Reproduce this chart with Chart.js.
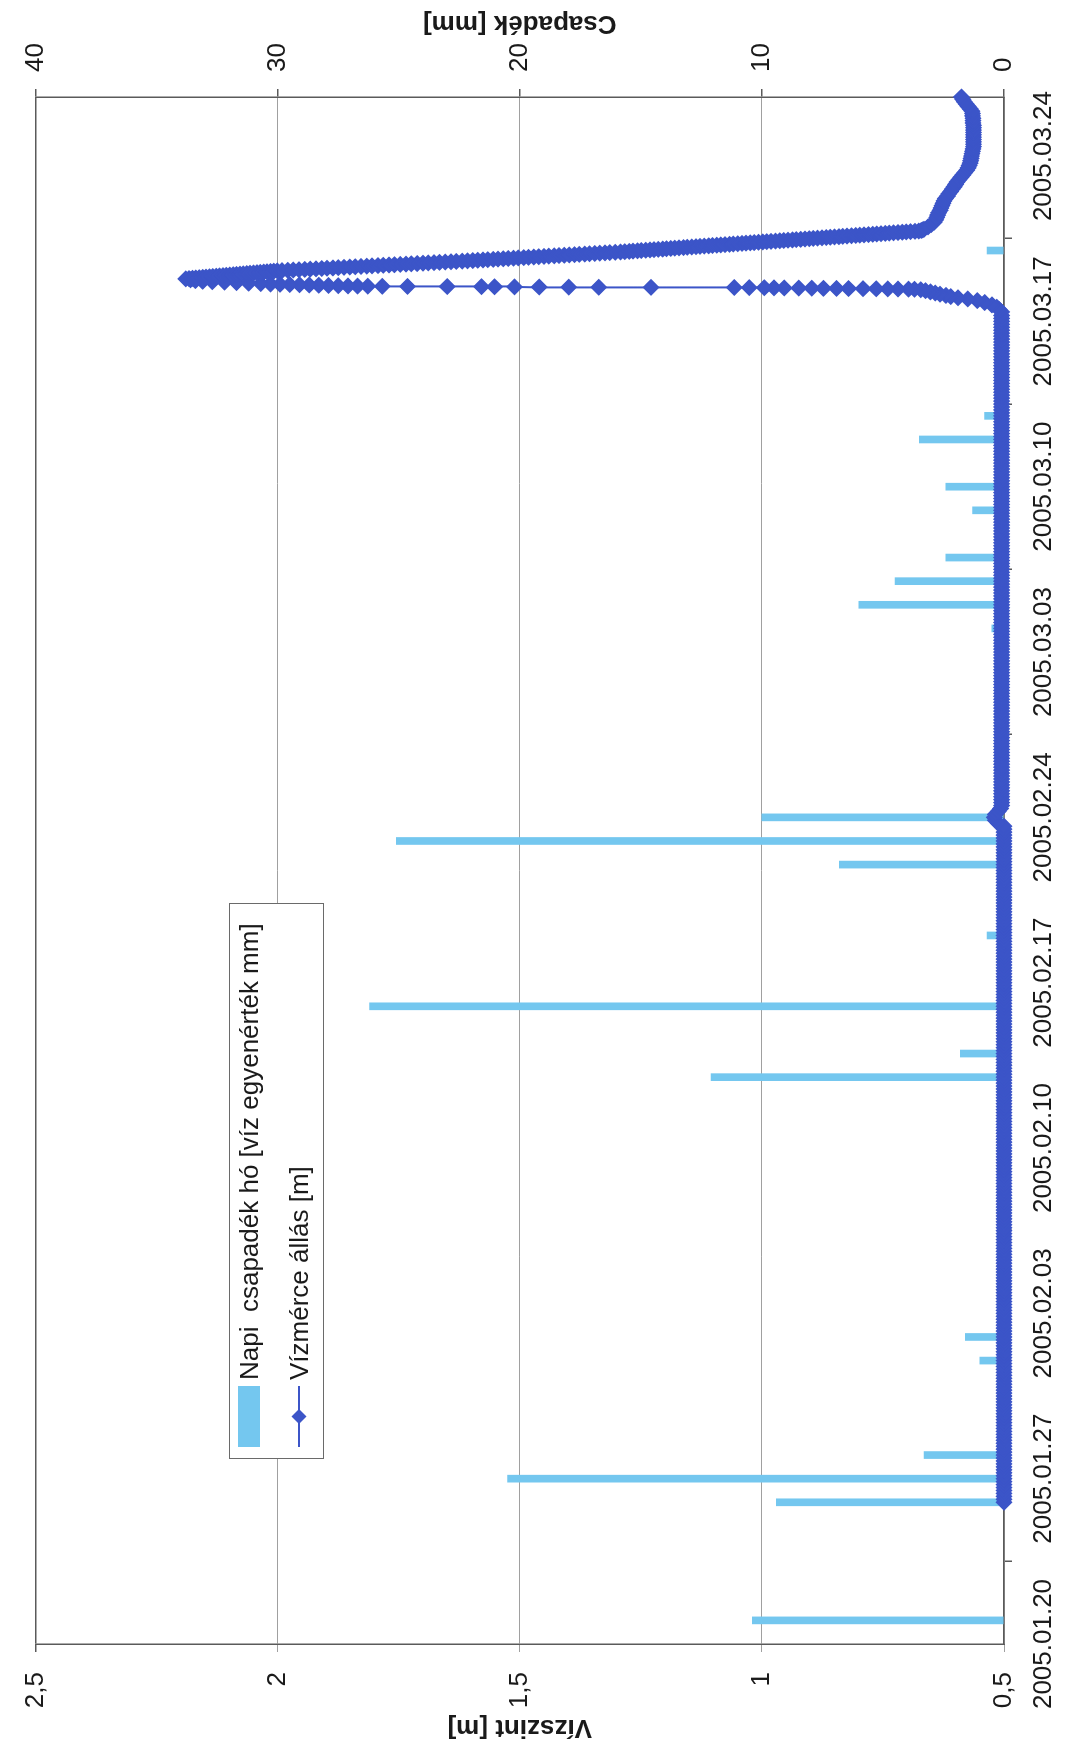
<!DOCTYPE html>
<html><head><meta charset="utf-8">
<script src="https://cdn.jsdelivr.net/npm/chart.js@4.4.1/dist/chart.umd.min.js"></script>
<style>
html,body{margin:0;padding:0;background:#fff;overflow:hidden;width:1073px;height:1753px}
#rot{position:absolute;left:0;top:0;width:1753px;height:1073px;transform-origin:0 0;transform:translate(0,1753px) rotate(-90deg)}
#c{position:absolute;left:0;top:0}
#legend{position:absolute;left:294px;top:229px;width:556px;height:95px;box-sizing:border-box;border:1.5px solid #6a6a6a;background:#fff;font-family:"Liberation Sans",Arial,sans-serif;font-size:26px;color:#1a1a1a}
.item{position:absolute;left:11px;height:30px;display:flex;align-items:center;white-space:pre}
.sym{width:61px;height:22px;margin-right:6px;flex:none}
</style></head><body>
<div id="rot"><canvas id="c" width="1753" height="1073"></canvas><div id="legend"></div></div>
<script>
// ---- labels ----
const precipLabel = 'Napi  csapadék hó [víz egyenérték mm]';
const levelLabel = 'Vízmérce állás [m]';
const levelAxisTitle = 'Vízszint [m]';
const precipAxisTitle = 'Csapadék [mm]';
// date tick labels (every 7 days from 2005.01.20 = day 0)
const dateLabels = ['2005.01.20','2005.01.27','2005.02.03','2005.02.10','2005.02.17','2005.02.24','2005.03.03','2005.03.10','2005.03.17','2005.03.24'];

// ---- daily precipitation (day offset from 2005.01.20, mm) ----
const barDays   = [1, 6, 7, 8, 12, 13, 24, 25, 27, 30, 33, 34, 35, 43, 44, 45, 46, 48, 49, 51, 52, 59];
const barValues = [10.4, 9.4, 20.5, 3.3, 1.0, 1.6, 12.1, 1.8, 26.2, 0.7, 6.8, 25.1, 10.0, 0.5, 6.0, 4.5, 2.4, 1.3, 2.4, 3.5, 0.8, 0.7];

// ---- water level readings (day offset from 2005.01.20, m) ----
const baseDays = [
6,6.125,6.25,6.375,6.5,6.625,6.75,6.875, 7,7.125,7.25,7.375,7.5,7.625,7.75,7.875,
8,8.125,8.25,8.375,8.5,8.625,8.75,8.875, 9,9.125,9.25,9.375,9.5,9.625,9.75,9.875,
10,10.125,10.25,10.375,10.5,10.625,10.75,10.875, 11,11.125,11.25,11.375,11.5,11.625,11.75,11.875,
12,12.125,12.25,12.375,12.5,12.625,12.75,12.875, 13,13.125,13.25,13.375,13.5,13.625,13.75,13.875,
14,14.125,14.25,14.375,14.5,14.625,14.75,14.875, 15,15.125,15.25,15.375,15.5,15.625,15.75,15.875,
16,16.125,16.25,16.375,16.5,16.625,16.75,16.875, 17,17.125,17.25,17.375,17.5,17.625,17.75,17.875,
18,18.125,18.25,18.375,18.5,18.625,18.75,18.875, 19,19.125,19.25,19.375,19.5,19.625,19.75,19.875,
20,20.125,20.25,20.375,20.5,20.625,20.75,20.875, 21,21.125,21.25,21.375,21.5,21.625,21.75,21.875,
22,22.125,22.25,22.375,22.5,22.625,22.75,22.875, 23,23.125,23.25,23.375,23.5,23.625,23.75,23.875,
24,24.125,24.25,24.375,24.5,24.625,24.75,24.875, 25,25.125,25.25,25.375,25.5,25.625,25.75,25.875,
26,26.125,26.25,26.375,26.5,26.625,26.75,26.875, 27,27.125,27.25,27.375,27.5,27.625,27.75,27.875,
28,28.125,28.25,28.375,28.5,28.625,28.75,28.875, 29,29.125,29.25,29.375,29.5,29.625,29.75,29.875,
30,30.125,30.25,30.375,30.5,30.625,30.75,30.875, 31,31.125,31.25,31.375,31.5,31.625,31.75,31.875,
32,32.125,32.25,32.375,32.5,32.625,32.75,32.875, 33,33.125,33.25,33.375,33.5,33.625,33.75,33.875,
34,34.125,34.25,34.375,34.5,34.625,34.75,34.875, 35,35.125,35.25,35.375,35.5,35.625,35.75,35.875,
36,36.125,36.25,36.375,36.5,36.625,36.75,36.875, 37,37.125,37.25,37.375,37.5,37.625,37.75,37.875,
38,38.125,38.25,38.375,38.5,38.625,38.75,38.875, 39,39.125,39.25,39.375,39.5,39.625,39.75,39.875,
40,40.125,40.25,40.375,40.5,40.625,40.75,40.875, 41,41.125,41.25,41.375,41.5,41.625,41.75,41.875,
42,42.125,42.25,42.375,42.5,42.625,42.75,42.875, 43,43.125,43.25,43.375,43.5,43.625,43.75,43.875,
44,44.125,44.25,44.375,44.5,44.625,44.75,44.875, 45,45.125,45.25,45.375,45.5,45.625,45.75,45.875,
46,46.125,46.25,46.375,46.5,46.625,46.75,46.875, 47,47.125,47.25,47.375,47.5,47.625,47.75,47.875,
48,48.125,48.25,48.375,48.5,48.625,48.75,48.875, 49,49.125,49.25,49.375,49.5,49.625,49.75,49.875,
50,50.125,50.25,50.375,50.5,50.625,50.75,50.875, 51,51.125,51.25,51.375,51.5,51.625,51.75,51.875,
52,52.125,52.25,52.375,52.5,52.625,52.75,52.875, 53,53.125,53.25,53.375,53.5,53.625,53.75,53.875,
54,54.125,54.25,54.375,54.5,54.625,54.75,54.875, 55,55.125,55.25,55.375,55.5,55.625,55.75,55.875,
56,56.125,56.25];
const baseValues = [
0.5,0.5,0.5,0.5,0.5,0.5,0.5,0.5, 0.5,0.5,0.5,0.5,0.5,0.5,0.5,0.5,
0.5,0.5,0.5,0.5,0.5,0.5,0.5,0.5, 0.5,0.5,0.5,0.5,0.5,0.5,0.5,0.5,
0.5,0.5,0.5,0.5,0.5,0.5,0.5,0.5, 0.5,0.5,0.5,0.5,0.5,0.5,0.5,0.5,
0.5,0.5,0.5,0.5,0.5,0.5,0.5,0.5, 0.5,0.5,0.5,0.5,0.5,0.5,0.5,0.5,
0.5,0.5,0.5,0.5,0.5,0.5,0.5,0.5, 0.5,0.5,0.5,0.5,0.5,0.5,0.5,0.5,
0.5,0.5,0.5,0.5,0.5,0.5,0.5,0.5, 0.5,0.5,0.5,0.5,0.5,0.5,0.5,0.5,
0.5,0.5,0.5,0.5,0.5,0.5,0.5,0.5, 0.5,0.5,0.5,0.5,0.5,0.5,0.5,0.5,
0.5,0.5,0.5,0.5,0.5,0.5,0.5,0.5, 0.5,0.5,0.5,0.5,0.5,0.5,0.5,0.5,
0.5,0.5,0.5,0.5,0.5,0.5,0.5,0.5, 0.5,0.5,0.5,0.5,0.5,0.5,0.5,0.5,
0.5,0.5,0.5,0.5,0.5,0.5,0.5,0.5, 0.5,0.5,0.5,0.5,0.5,0.5,0.5,0.5,
0.5,0.5,0.5,0.5,0.5,0.5,0.5,0.5, 0.5,0.5,0.5,0.5,0.5,0.5,0.5,0.5,
0.5,0.5,0.5,0.5,0.5,0.5,0.5,0.5, 0.5,0.5,0.5,0.5,0.5,0.5,0.5,0.5,
0.5,0.5,0.5,0.5,0.5,0.5,0.5,0.5, 0.5,0.5,0.5,0.5,0.5,0.5,0.5,0.5,
0.5,0.5,0.5,0.5,0.5,0.5,0.5,0.5, 0.5,0.5,0.5,0.5,0.5,0.5,0.5,0.5,
0.5,0.5,0.5,0.5,0.5,0.5,0.512,0.518, 0.52,0.518,0.512,0.507,0.505,0.505,0.505,0.505,
0.505,0.505,0.505,0.505,0.505,0.505,0.505,0.505, 0.505,0.505,0.505,0.505,0.505,0.505,0.505,0.505,
0.505,0.505,0.505,0.505,0.505,0.505,0.505,0.505, 0.505,0.505,0.505,0.505,0.505,0.505,0.505,0.505,
0.505,0.505,0.505,0.505,0.505,0.505,0.505,0.505, 0.505,0.505,0.505,0.505,0.505,0.505,0.505,0.505,
0.505,0.505,0.505,0.505,0.505,0.505,0.505,0.505, 0.505,0.505,0.505,0.505,0.505,0.505,0.505,0.505,
0.505,0.505,0.505,0.505,0.505,0.505,0.505,0.505, 0.505,0.505,0.505,0.505,0.505,0.505,0.505,0.505,
0.505,0.505,0.505,0.505,0.505,0.505,0.505,0.505, 0.505,0.505,0.505,0.505,0.505,0.505,0.505,0.505,
0.505,0.505,0.505,0.505,0.505,0.505,0.505,0.505, 0.505,0.505,0.505,0.505,0.505,0.505,0.505,0.505,
0.505,0.505,0.505,0.505,0.505,0.505,0.505,0.505, 0.505,0.505,0.505,0.505,0.505,0.505,0.505,0.505,
0.505,0.505,0.505,0.505,0.505,0.505,0.505,0.505, 0.505,0.505,0.505,0.505,0.505,0.505,0.505,0.505,
0.505,0.505,0.505,0.505,0.505,0.505,0.505,0.505, 0.505,0.505,0.505,0.505,0.505,0.505,0.505,0.505,
0.505,0.505,0.505];
const peakDays = [56.4,56.5,56.6,56.7,56.8,56.88,56.95,57,57.05,57.1,57.15,57.2,57.25,57.3,57.34,
57.36,57.365,57.37,57.375,57.38,57.385,57.39,57.395,57.4,57.405,57.41,57.415,57.42,57.425,57.43,
57.435,57.44,57.445,57.45,57.455,57.46,57.465,57.47,57.475,57.48,57.485,57.49,57.495,57.5,
57.51,57.52,57.53,57.54,57.55,57.56,57.57,57.58,57.6,57.62,57.64,57.66,57.68,57.7,57.73,57.76,57.8];
const peakValues = [0.505,0.51,0.515,0.525,0.54,0.555,0.575,0.595,0.61,0.62,0.632,0.642,0.652,0.662,0.672,
0.685,0.697,0.719,0.74,0.764,0.791,0.821,0.846,0.873,0.897,0.924,0.954,0.975,0.995,1.026,
1.057,1.229,1.337,1.399,1.46,1.511,1.552,1.579,1.65,1.732,1.784,1.814,1.835,1.855,
1.875,1.895,1.915,1.935,1.955,1.975,1.995,2.015,2.035,2.06,2.085,2.11,2.135,2.155,2.17,2.18,2.19];
const fallDays = [
57.8125,57.825,57.8375,57.85,57.8625,57.875,57.8875,57.9,57.9125,57.925,57.9375,57.95,57.9625,57.975,57.9875,
58,58.0125,58.025,58.0375,58.05,58.0625,58.075,58.0875,58.1,58.1125,58.125,58.1375,
58.15,58.1625,58.175,58.1875,58.2,58.2125,58.225,58.2375,58.25,58.2625,58.275,58.2875,58.3,58.3125,58.325,58.3375,
58.35,58.3625,58.375,58.3875,58.4,58.4125,58.425,58.4375,58.45,58.4625,58.475,58.4875,58.5,58.5125,58.525,58.5375,58.55,
58.5625,58.575,58.5875,58.6,58.6125,58.625,58.6375,58.65,58.6625,58.675,58.6875,58.7,58.7125,58.725,58.7375,58.75,
58.7625,58.775,58.7875,58.8,58.8125,58.825,58.8375,58.85,58.8625,58.875,58.8875,58.9,58.9125,58.925,58.9375,
58.95,58.9625,58.975,58.9875,59,59.0125,59.025,59.0375,59.05,59.0625,59.075,59.0875,59.1,59.1125,59.125,59.1375,
59.15,59.1625,59.175,59.1875,59.2,59.2125,59.225,59.2375,59.25,59.2625,59.275,59.2875,59.3,59.3125,59.325,59.3375,59.35,
59.3625,59.375,59.3875,59.4,59.4125,59.425,59.4375,59.45,59.4625,59.475,59.4875,59.5,59.5125,59.525,59.5375,59.55,
59.5625,59.575,59.5875,59.6,59.6125,59.625,59.6375,59.65,59.6625,59.675,59.6875,59.7,59.7125,59.725,59.7375,59.75,
59.7625,59.775,59.7875,59.8,59.8125,59.825,59.85,59.875];
const fallValues = [
2.183,2.176,2.169,2.162,2.155,2.148,2.141,2.134,2.127,2.12,2.113,2.106,2.099,2.092,2.085,
2.078,2.071,2.064,2.057,2.05,2.043,2.036,2.029,2.022,2.015,2.008,2.001,
1.991,1.979,1.968,1.956,1.944,1.933,1.921,1.909,1.898,1.886,1.875,1.863,1.851,1.84,1.828,1.816,
1.805,1.793,1.782,1.77,1.759,1.747,1.735,1.724,1.712,1.7,1.689,1.677,1.666,1.654,1.642,1.631,1.619,
1.608,1.597,1.587,1.576,1.566,1.555,1.545,1.534,1.524,1.513,1.503,1.492,1.482,1.471,1.461,1.45,
1.44,1.429,1.419,1.408,1.398,1.387,1.377,1.366,1.356,1.345,1.335,1.324,1.314,1.303,1.292,
1.283,1.274,1.266,1.257,1.249,1.24,1.231,1.223,1.214,1.205,1.197,1.188,1.18,1.171,1.162,1.154,
1.145,1.136,1.128,1.119,1.11,1.102,1.093,1.085,1.076,1.067,1.059,1.05,1.041,1.033,1.024,1.016,1.007,
0.998,0.99,0.981,0.972,0.963,0.955,0.946,0.937,0.929,0.92,0.911,0.902,0.894,0.885,0.876,0.867,
0.859,0.85,0.841,0.833,0.824,0.815,0.806,0.798,0.789,0.78,0.771,0.763,0.754,0.745,0.737,0.728,
0.719,0.71,0.702,0.693,0.684,0.676,0.671,0.668];
const recessDays = [59.9,60,60.1,60.2,60.3,60.4,60.5,60.6,60.7,60.8,60.9,61,61.1,61.2,61.3,61.4,61.5,61.6,61.7,61.8,61.9,
62,62.1,62.2,62.3,62.4,62.5,62.6,62.7,62.8,62.9,63,63.1,63.2,63.3,63.4,63.5,63.6,63.7,63.8,63.9,
64,64.1,64.2,64.3,64.4,64.5,64.6,64.7,64.8,64.9,65,65.1,65.2,65.3,65.4,65.5];
const recessValues = [0.665,0.657,0.65,0.644,0.641,0.639,0.637,0.635,0.632,0.63,0.628,0.626,0.624,0.621,0.617,0.614,0.61,0.607,0.603,0.6,0.597,
0.593,0.589,0.585,0.581,0.577,0.574,0.572,0.57,0.569,0.568,0.567,0.566,0.565,0.564,0.563,0.563,0.563,0.563,0.563,0.563,
0.563,0.563,0.563,0.563,0.564,0.564,0.564,0.565,0.565,0.566,0.57,0.574,0.578,0.582,0.585,0.588];

const levelDays = [...baseDays, ...peakDays, ...fallDays, ...recessDays];
const levelValues = [...baseValues, ...peakValues, ...fallValues, ...recessValues];

// ---- styles ----
const FONT = '"Liberation Sans", Arial, sans-serif';
const barColor = '#74c7ef';
const lineColor = '#3c55c8';
const axisColor = '#5a5a5a';
const gridColor = '#a0a0a0';
const textColor = '#1a1a1a';
const tickFont = {family: FONT, size: 26};
const titleFont = {family: FONT, size: 26, weight: 'bold'};

const rightTitle = {
  id: 'rightTitle',
  afterDraw(chart) {
    const s = chart.scales.y2, c = chart.ctx;
    c.save();
    c.font = 'bold 26px ' + FONT;
    c.fillStyle = textColor; c.textAlign = 'center'; c.textBaseline = 'middle';
    c.translate(s.right - 23, (s.top + s.bottom) / 2);
    c.rotate(-Math.PI / 2);
    c.fillText(precipAxisTitle, 0, 0);
    c.restore();
  }
};

const chart = new Chart(document.getElementById('c'), {
  type: 'line',
  data: {
    datasets: [
      { type: 'bar', label: precipLabel, data: barDays.map((d, i) => ({x: d, y: barValues[i]})),
        xAxisID: 'x', yAxisID: 'y2', backgroundColor: barColor, borderWidth: 0, barThickness: 7, order: 2 },
      { type: 'line', label: levelLabel, data: levelDays.map((d, i) => ({x: d, y: levelValues[i]})),
        xAxisID: 'x', yAxisID: 'y', borderColor: lineColor, backgroundColor: lineColor, borderWidth: 2,
        pointStyle: 'rectRot', pointRadius: 7.5, pointBorderWidth: 1.5, pointBorderColor: lineColor,
        pointBackgroundColor: lineColor, tension: 0, order: 1, clip: false }
    ]
  },
  options: {
    responsive: false, animation: false, devicePixelRatio: 1,
    layout: {padding: {top: 27, left: 0, right: 0, bottom: 0}},
    plugins: {legend: {display: false}, tooltip: {enabled: false}},
    scales: {
      x: { type: 'linear', position: 'bottom', min: 0, max: 65.5, offset: false,
        ticks: { stepSize: 7, includeBounds: false, autoSkip: false, maxRotation: 0, minRotation: 0, padding: 16,
          font: tickFont, color: textColor,
          callback: v => { const i = Math.round(v / 7); return Math.abs(v - i * 7) < 1e-6 ? dateLabels[i] : ''; } },
        grid: { drawOnChartArea: false, tickLength: 8, color: axisColor, lineWidth: 1.5 },
        border: { display: true, color: axisColor, width: 1.5 },
        afterFit: s => { s.height = 69; } },
      y: { position: 'left', min: 0.5, max: 2.5,
        ticks: { stepSize: 0.5, padding: 20, font: tickFont, color: textColor,
          callback: v => String(v).replace('.', ',') },
        grid: { color: c => (c.tick && c.tick.value === 2.5) ? axisColor : gridColor,
          lineWidth: c => (c.tick && c.tick.value === 2.5) ? 1.5 : 1, tickLength: 8 },
        border: { display: true, color: axisColor, width: 1.5 },
        title: { display: true, text: levelAxisTitle, font: titleFont, color: textColor, padding: {top: 10, bottom: 0} },
        afterFit: s => { s.width = 109; } },
      y2: { position: 'right', min: 0, max: 40,
        ticks: { stepSize: 10, padding: 17, font: tickFont, color: textColor },
        grid: { drawOnChartArea: false, tickLength: 8, color: axisColor, lineWidth: 1.5 },
        border: { display: true, color: axisColor, width: 1.5 },
        afterFit: s => { s.width = 97; } }
    }
  },
  plugins: [rightTitle]
});

// ---- legend (HTML, from dataset labels/colours) ----
const legendEl = document.getElementById('legend');
const rowTops = [4, 54];
chart.data.datasets.forEach((ds, i) => {
  const item = document.createElement('div');
  item.className = 'item';
  item.style.top = rowTops[i] + 'px';
  let sym;
  if (ds.type === 'bar') {
    sym = document.createElement('div');
    sym.className = 'sym';
    sym.style.background = ds.backgroundColor;
  } else {
    sym = document.createElementNS('http://www.w3.org/2000/svg', 'svg');
    sym.setAttribute('class', 'sym');
    sym.setAttribute('viewBox', '0 0 61 22');
    sym.innerHTML = '<line x1="0" y1="11" x2="61" y2="11" stroke="' + ds.borderColor + '" stroke-width="2"/>' +
      '<polygon points="30.5,3.5 38,11 30.5,18.5 23,11" fill="' + ds.borderColor + '"/>';
  }
  const txt = document.createElement('span');
  txt.textContent = ds.label;
  item.appendChild(sym);
  item.appendChild(txt);
  legendEl.appendChild(item);
});
</script></body></html>
